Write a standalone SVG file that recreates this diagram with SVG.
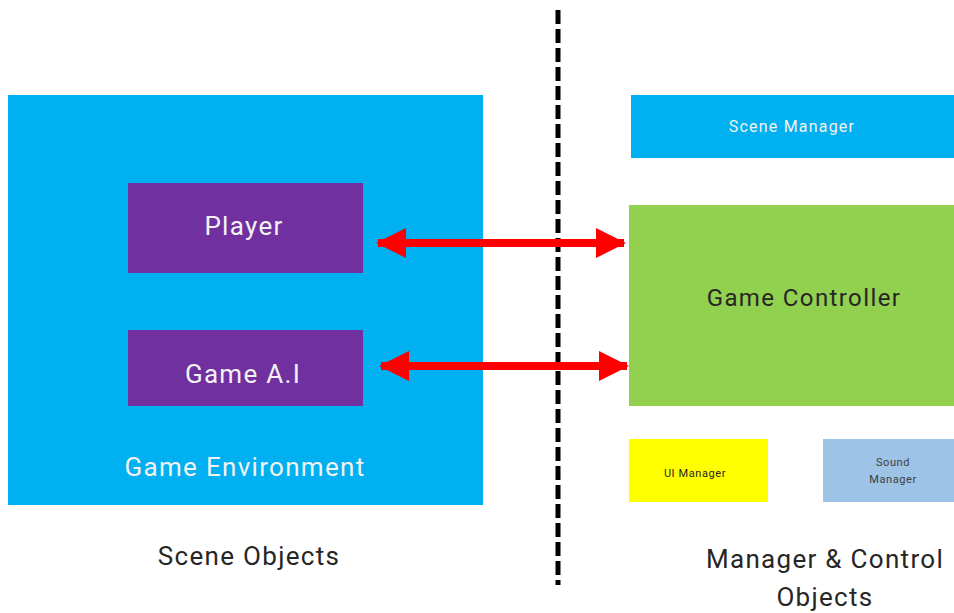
<svg xmlns="http://www.w3.org/2000/svg" width="954" height="613" viewBox="0 0 954 613">
  <defs>
    <style>
      text { font-family: "Roboto", "Liberation Sans", sans-serif; text-anchor: middle; }
      .big { font-size: 26px; letter-spacing: 1.3px; }
      .mid { font-size: 24px; letter-spacing: 1.4px; }
      .small { font-size: 16px; letter-spacing: 1.2px; }
      .tiny { font-size: 11px; letter-spacing: 0.6px; }
      .light { fill: #F2F2F2; }
      .dark { fill: #262626; }
      .conn { stroke: #FF0000; stroke-width: 8; fill: none; }
    </style>
    <marker id="head" viewBox="0 0 30 30" refX="28" refY="15" markerWidth="30" markerHeight="30" markerUnits="userSpaceOnUse" orient="auto-start-reverse">
      <path d="M0,0 L30,15 L0,30 Z" fill="#FF0000"/>
    </marker>
  </defs>
  <rect width="954" height="613" fill="#FFFFFF"/>

  <g id="game-environment">
    <rect x="8" y="95" width="475" height="410" fill="#00B0F0"/>
    <text x="245" y="476" class="big light">Game Environment</text>
  </g>
  <g id="player">
    <rect x="128" y="183" width="235" height="90" fill="#7030A0"/>
    <text x="244" y="235" class="big light">Player</text>
  </g>
  <g id="game-ai">
    <rect x="128" y="330" width="235" height="76" fill="#7030A0"/>
    <text x="243" y="383" class="big light">Game A.I</text>
  </g>

  <g id="divider">
    <line x1="558" y1="10" x2="558" y2="585" stroke="#000000" stroke-width="5" stroke-dasharray="14 5"/>
  </g>

  <g id="scene-manager">
    <rect x="631" y="95" width="323" height="63" fill="#00B0F0"/>
    <text x="792" y="132" class="small light">Scene Manager</text>
  </g>
  <g id="game-controller">
    <rect x="629" y="205" width="325" height="201" fill="#92D050"/>
    <text x="804" y="306" class="mid dark">Game Controller</text>
  </g>
  <g id="ui-manager">
    <rect x="629" y="439" width="139" height="63" fill="#FFFF00"/>
    <text x="695" y="477" class="tiny dark">UI Manager</text>
  </g>
  <g id="sound-manager">
    <rect x="823" y="439" width="131" height="63" fill="#9DC3E6"/>
    <text x="893" y="466" class="tiny" fill="#404040">Sound</text>
    <text x="893" y="483" class="tiny" fill="#404040">Manager</text>
  </g>

  <g id="scene-objects-label">
    <text x="249" y="565" class="big dark">Scene Objects</text>
  </g>
  <g id="manager-control-label">
    <text x="825" y="568" class="big dark">Manager &amp; Control</text>
    <text x="825" y="606" class="big dark">Objects</text>
  </g>

  <g id="connectors">
    <line class="conn" x1="378" y1="243" x2="624" y2="243" marker-start="url(#head)" marker-end="url(#head)"/>
    <line class="conn" x1="381" y1="366" x2="627" y2="366" marker-start="url(#head)" marker-end="url(#head)"/>
  </g>
</svg>
